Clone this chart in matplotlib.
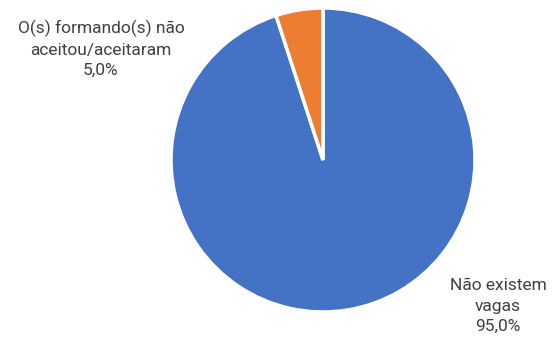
import matplotlib.pyplot as plt

# Data
labels = ["Não existem\nvagas", "O(s) formando(s) não\naceitou/aceitaram"]
values = [95.0, 5.0]
colors = ["#4472C4", "#ED7D31"]


def main():
    fig = plt.figure(figsize=(5.52, 3.41), dpi=100)
    ax = fig.add_axes([0, 0, 1, 1])
    ax.set_xlim(0, 552)
    ax.set_ylim(0, 341)
    ax.set_aspect("equal")
    ax.axis("off")

    ax.pie(values, colors=colors, startangle=90, counterclock=False,
           center=(323, 181), radius=152,
           wedgeprops=dict(edgecolor="white", linewidth=2.5))
    ax.set_xlim(0, 552)
    ax.set_ylim(0, 341)

    pos = [(498, 35), (101, 292)]
    for lab, v, (x, y) in zip(labels, values, pos):
        txt = lab + "\n" + ("%.1f%%" % v).replace(".", ",")
        ax.text(x, y, txt, ha="center", va="center", fontsize=12.5,
                family="Roboto", color="#404040", linespacing=1.45)

    fig.savefig("out.png", dpi=100)


if __name__ == '__main__':
    main()
